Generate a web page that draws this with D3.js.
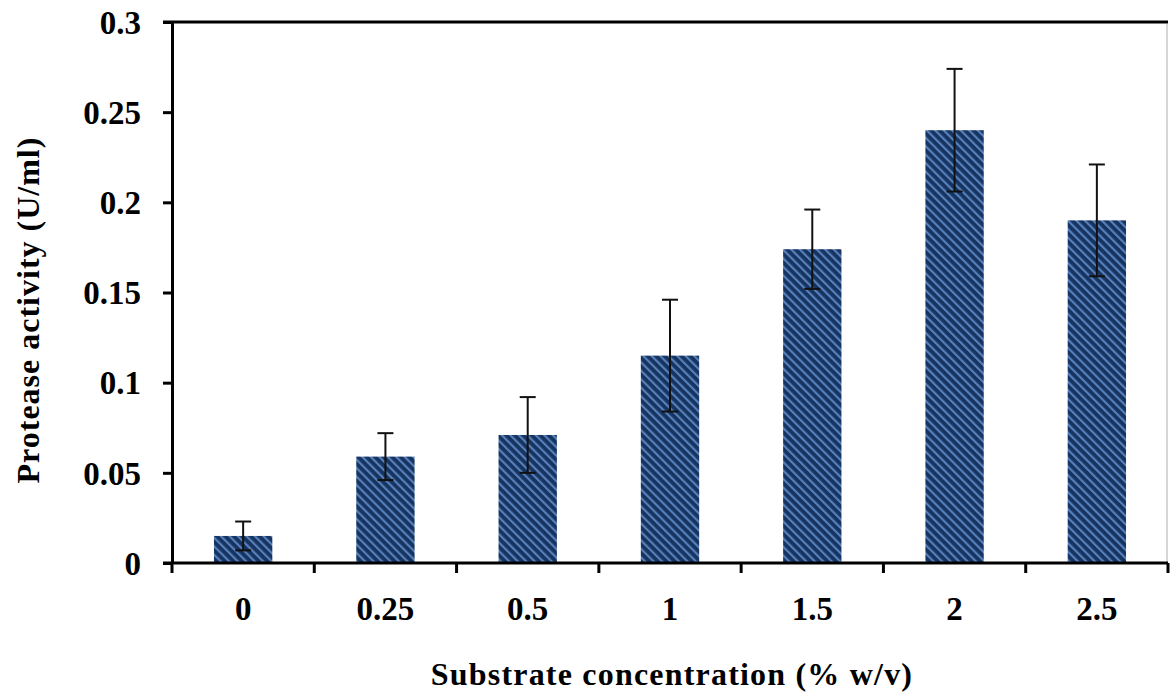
<!DOCTYPE html>
<html>
<head>
<meta charset="utf-8">
<script src="https://cdn.jsdelivr.net/npm/d3@7"></script>
<style>
  body { margin: 0; background: #fff; }
  text { font-family: "Liberation Serif", "DejaVu Serif", serif; font-weight: bold; fill: #000; }
</style>
</head>
<body>
<div class="chart"></div>
<script>
var categories = ["0", "0.25", "0.5", "1", "1.5", "2", "2.5"];
var activity = [0.015, 0.059, 0.071, 0.115, 0.174, 0.240, 0.190];
var errors = [0.008, 0.013, 0.021, 0.031, 0.022, 0.034, 0.031];
var yTicks = [0, 0.05, 0.1, 0.15, 0.2, 0.25, 0.3];
var yTickLabels = ["0", "0.05", "0.1", "0.15", "0.2", "0.25", "0.3"];

var margin = {top: 22, right: 2, bottom: 131, left: 172}
  , width = 1170 - margin.left - margin.right
  , height = 694 - margin.top - margin.bottom;

var svg = d3.select(".chart").append("svg")
  .attr("width", 1170)
  .attr("height", 694);

// hatch fill for the bars
var pat = svg.append("defs").append("pattern")
  .attr("id", "hatch")
  .attr("patternUnits", "userSpaceOnUse")
  .attr("width", 6)
  .attr("height", 6)
  .attr("patternTransform", "rotate(-45)");
pat.append("rect").attr("width", 6).attr("height", 6).attr("fill", "#17335f");
pat.append("rect").attr("x", 0).attr("width", 2.2).attr("height", 6).attr("fill", "#5580bb");

var g = svg.append("g")
  .attr("transform", "translate(" + margin.left + "," + margin.top + ")");

var xScale = d3.scaleBand()
  .domain(categories)
  .range([0, width])
  .paddingInner(0.59)
  .paddingOuter(0.295);
var xOuter = d3.scaleBand().domain(categories).range([0, width]);

var yScale = d3.scaleLinear()
  .domain([0, 0.3])
  .range([height, 0]);

// right border of plot
g.append("line")
  .attr("x1", width - 1).attr("x2", width - 1)
  .attr("y1", 2).attr("y2", height)
  .attr("stroke", "#c8c8c8").attr("stroke-width", 1.5);

// bars
g.selectAll(".bar")
  .data(activity)
  .enter().append("rect")
  .attr("class", "bar")
  .attr("x", function(d, i) { return xScale(categories[i]); })
  .attr("width", xScale.bandwidth())
  .attr("y", function(d) { return yScale(d); })
  .attr("height", function(d) { return height - yScale(d); })
  .attr("fill", "url(#hatch)");

// error bars
var eb = g.selectAll(".err")
  .data(activity)
  .enter().append("g")
  .attr("class", "err")
  .attr("stroke", "#111")
  .attr("stroke-width", 2);
eb.append("line")
  .attr("x1", function(d, i) { return xScale(categories[i]) + xScale.bandwidth() / 2; })
  .attr("x2", function(d, i) { return xScale(categories[i]) + xScale.bandwidth() / 2; })
  .attr("y1", function(d, i) { return yScale(d + errors[i]); })
  .attr("y2", function(d, i) { return yScale(d - errors[i]); });
[1, -1].forEach(function(s) {
  eb.append("line")
    .attr("x1", function(d, i) { return xScale(categories[i]) + xScale.bandwidth() / 2 - 8; })
    .attr("x2", function(d, i) { return xScale(categories[i]) + xScale.bandwidth() / 2 + 8; })
    .attr("y1", function(d, i) { return yScale(d + s * errors[i]); })
    .attr("y2", function(d, i) { return yScale(d + s * errors[i]); });
});

// y axis
var yAxis = g.append("g")
  .attr("class", "y axis")
  .call(d3.axisLeft(yScale).tickValues(yTicks)
    .tickFormat(function(d, i) { return yTickLabels[i]; })
    .tickSize(9).tickSizeOuter(0).tickPadding(22));
yAxis.select(".domain").attr("stroke", "#000").attr("stroke-width", 3);
yAxis.selectAll(".tick line").attr("stroke", "#000").attr("stroke-width", 3);
yAxis.selectAll(".tick text").style("font-size", "33px").attr("dy", "0.34em");

// top line at 0.3
g.append("line")
  .attr("x1", -9).attr("x2", width)
  .attr("y1", yScale(0.3)).attr("y2", yScale(0.3))
  .attr("stroke", "#000").attr("stroke-width", 3);

// x axis: ticks at category boundaries
var xAxis = g.append("g")
  .attr("class", "x axis")
  .attr("transform", "translate(0," + height + ")");
xAxis.append("line")
  .attr("x1", -9).attr("x2", width)
  .attr("stroke", "#000").attr("stroke-width", 3);
xAxis.selectAll(".xt")
  .data(categories.concat(["end"]))
  .enter().append("line")
  .attr("class", "xt")
  .attr("x1", function(d, i) { return i * xOuter.step(); })
  .attr("x2", function(d, i) { return i * xOuter.step(); })
  .attr("y1", 0).attr("y2", 10)
  .attr("stroke", "#000").attr("stroke-width", 3);
xAxis.selectAll(".xl")
  .data(categories)
  .enter().append("text")
  .attr("class", "xl")
  .attr("x", function(d) { return xOuter(d) + xOuter.bandwidth() / 2; })
  .attr("y", 57)
  .attr("text-anchor", "middle")
  .style("font-size", "33px")
  .text(function(d) { return d; });

// axis titles
svg.append("text")
  .attr("x", 672).attr("y", 685)
  .attr("text-anchor", "middle")
  .style("font-size", "32px")
  .style("letter-spacing", "1.2px")
  .text("Substrate concentration (% w/v)");
svg.append("text")
  .attr("transform", "translate(39,310) rotate(-90)")
  .attr("text-anchor", "middle")
  .style("font-size", "32px")
  .style("letter-spacing", "1px")
  .text("Protease activity (U/ml)");
</script>
</body>
</html>
